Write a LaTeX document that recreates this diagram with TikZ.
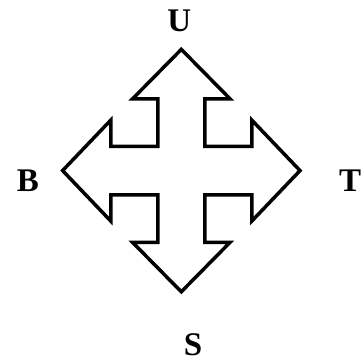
\documentclass[tikz,border=0pt]{standalone}
\usepackage{fontspec}
\setmainfont{Liberation Serif}
\newfontfamily\lblfont{Liberation Serif}[BoldFont={Liberation Serif Bold}]
\begin{document}
\begin{tikzpicture}[x=1pt,y=1pt,
  lbl/.style={inner sep=0pt,anchor=center,font=\lblfont\fontsize{33}{33}\selectfont\bfseries},
  crossarrow/.style={draw=black,line width=3.5pt,line join=miter,fill=white}]
\useasboundingbox (0,0) rectangle (363,363);
\fill[white] (0,0) rectangle (363,363);
% center
\def\cx{181.3}\def\cy{192.4}
\def\wv{23.5}\def\wh{24.2}
\def\bv{71.8}\def\hv{48.7}\def\tv{121.2}
\def\bh{70.5}\def\hh{50.5}\def\th{118.7}
\begin{scope}[shift={(\cx,\cy)}]
\draw[crossarrow]
  (-\wv,\wh) -- (-\wv,\bv) -- (-\hv,\bv) -- (0,\tv) -- (\hv,\bv) -- (\wv,\bv) -- (\wv,\wh)
  -- (\bh,\wh) -- (\bh,\hh) -- (\th,0) -- (\bh,-\hh) -- (\bh,-\wh) -- (\wv,-\wh)
  -- (\wv,-\bv) -- (\hv,-\bv) -- (0,-\tv) -- (-\hv,-\bv) -- (-\wv,-\bv) -- (-\wv,-\wh)
  -- (-\bh,-\wh) -- (-\bh,-\hh) -- (-\th,0) -- (-\bh,\hh) -- (-\bh,\wh) -- cycle;
\end{scope}
\node[lbl] (U) at (179.3,342.2) {U};
\node[lbl] (B) at (27.8,182.2) {B};
\node[lbl] (T) at (350,182.5) {T};
\node[lbl] (S) at (193,18.3) {S};
\end{tikzpicture}
\end{document}
